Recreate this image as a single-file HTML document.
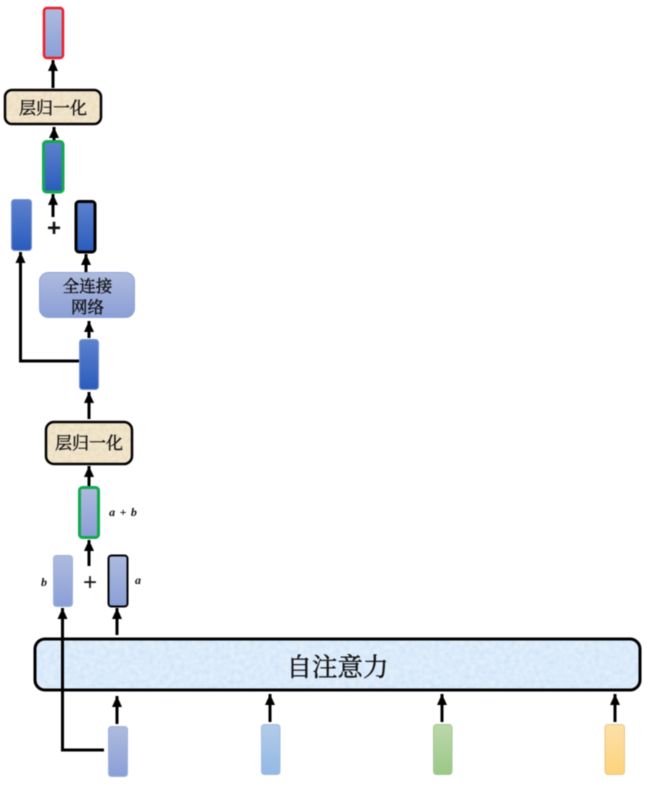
<!DOCTYPE html>
<html><head><meta charset="utf-8"><style>
html,body{margin:0;padding:0;background:#fff;width:651px;height:786px;overflow:hidden}
svg{display:block;position:absolute;left:0;top:0;filter:blur(.4px)}
text{font-family:"Liberation Serif","Noto Serif CJK SC",serif;fill:#111;text-anchor:middle}
.cjk{stroke:#111;stroke-width:.4px}
</style></head><body>
<svg width="651" height="786" viewBox="0 0 651 786" xmlns="http://www.w3.org/2000/svg">
<defs>
<linearGradient id="p" x1="0" y1="0" x2="0" y2="1"><stop offset="0" stop-color="#aebbdf"/><stop offset="1" stop-color="#8b9fd6"/></linearGradient>
<linearGradient id="d" x1="0" y1="0" x2="0" y2="1"><stop offset="0" stop-color="#5d81cd"/><stop offset="1" stop-color="#2a5cbc"/></linearGradient>
<linearGradient id="lb" x1="0" y1="0" x2="0" y2="1"><stop offset="0" stop-color="#b3cbe8"/><stop offset="1" stop-color="#93b9e4"/></linearGradient>
<linearGradient id="g" x1="0" y1="0" x2="0" y2="1"><stop offset="0" stop-color="#bcd8aa"/><stop offset="1" stop-color="#9ac886"/></linearGradient>
<linearGradient id="y" x1="0" y1="0" x2="0" y2="1"><stop offset="0" stop-color="#fde0a8"/><stop offset="1" stop-color="#fdd27c"/></linearGradient>
<filter id="ptex" x="0" y="0" width="100%" height="100%">
<feTurbulence type="fractalNoise" baseFrequency="0.25" numOctaves="3" seed="4"/>
<feColorMatrix values="0 0 0 0 0.80  0 0 0 0 0.67  0 0 0 0 0.44  1.2 0 0 0 -0.3"/>
</filter>
<filter id="btex" x="0" y="0" width="100%" height="100%">
<feTurbulence type="fractalNoise" baseFrequency="0.2" numOctaves="4" seed="8"/>
<feColorMatrix values="0 0 0 0 0.62  0 0 0 0 0.78  0 0 0 0 0.95  1.8 0 0 0 -0.55"/>
</filter>
<clipPath id="c1"><rect x="5" y="91" width="97" height="33" rx="7"/></clipPath>
<clipPath id="c2"><rect x="46" y="422" width="87" height="43" rx="8"/></clipPath>
<clipPath id="c3"><rect x="35" y="639" width="605" height="51" rx="10"/></clipPath>
<marker id="a" markerUnits="userSpaceOnUse" viewBox="0 0 11 10" refX="11" refY="5" markerWidth="11" markerHeight="10" orient="auto"><path d="M0,0 L11,5 L0,10 Z" fill="#000"/></marker>
</defs>

<!-- output -->
<rect x="44" y="8" width="19" height="50" rx="3" fill="url(#p)" stroke="#ee1c25" stroke-width="2.500"/>
<line x1="53" y1="88" x2="53" y2="60" stroke="#000" stroke-width="3" marker-end="url(#a)"/>

<!-- layer norm 1 -->
<rect x="5" y="90" width="96" height="34" rx="7" fill="#f3e8d2"/>
<rect x="5" y="90" width="97" height="34" fill="#f3e8d2" filter="url(#ptex)" clip-path="url(#c1)"/>
<rect x="5" y="90" width="96" height="34" rx="7" fill="none" stroke="#000" stroke-width="2.500"/>
<text class="cjk" x="53" y="114" font-size="17">层归一化</text>
<line x1="54" y1="140" x2="54" y2="127" stroke="#000" stroke-width="3" marker-end="url(#a)"/>

<!-- sum 2 -->
<rect x="43.500" y="141.500" width="19.500" height="50.500" rx="3" fill="url(#d)" stroke="#13a84e" stroke-width="3"/>
<line x1="53" y1="217" x2="53" y2="194" stroke="#000" stroke-width="3" marker-end="url(#a)"/>
<text x="54" y="236" font-size="24" font-weight="bold" style="font-family:'Liberation Sans',sans-serif">+</text>
<rect x="11.500" y="199.500" width="20" height="51" rx="3" fill="url(#d)" stroke="#7d95cf" stroke-width="1"/>
<rect x="76" y="201.500" width="19" height="50.500" rx="3" fill="url(#d)" stroke="#000" stroke-width="3"/>

<!-- skip 2 -->
<polyline points="79,361 20.500,361 20.500,252" fill="none" stroke="#000" stroke-width="3" marker-end="url(#a)"/>
<line x1="86" y1="272" x2="86" y2="254" stroke="#000" stroke-width="3" marker-end="url(#a)"/>

<!-- FC -->
<rect x="39.500" y="272.500" width="95" height="45" rx="9" fill="url(#p)" stroke="#8ea2d4" stroke-width="1"/>
<text class="cjk" x="87.500" y="292" font-size="16.500">全连接</text>
<text class="cjk" x="87.500" y="313" font-size="16.500">网络</text>
<line x1="89" y1="338" x2="89" y2="321" stroke="#000" stroke-width="3" marker-end="url(#a)"/>

<rect x="79.500" y="339.500" width="19" height="50" rx="3" fill="url(#d)" stroke="#7d95cf" stroke-width="1"/>
<line x1="89" y1="419" x2="89" y2="392" stroke="#000" stroke-width="3" marker-end="url(#a)"/>

<!-- layer norm 2 -->
<rect x="46" y="422" width="86" height="42" rx="8" fill="#f3e8d2"/>
<rect x="46" y="422" width="87" height="43" fill="#f3e8d2" filter="url(#ptex)" clip-path="url(#c2)"/>
<rect x="46" y="422" width="86" height="42" rx="8" fill="none" stroke="#000" stroke-width="2.500"/>
<text class="cjk" x="89" y="449" font-size="17">层归一化</text>
<line x1="89" y1="486" x2="89" y2="466" stroke="#000" stroke-width="3" marker-end="url(#a)"/>

<!-- sum 1 -->
<rect x="79.500" y="487.500" width="19" height="50" rx="3" fill="url(#p)" stroke="#13a84e" stroke-width="3"/>
<text x="123" y="516" font-size="12" font-weight="bold" font-style="italic" word-spacing="1.5">a + b</text>
<line x1="89" y1="566" x2="89" y2="540" stroke="#000" stroke-width="3" marker-end="url(#a)"/>
<text x="90" y="590" font-size="24" style="font-family:'Liberation Sans',sans-serif">+</text>
<rect x="53.500" y="555.500" width="19" height="51" rx="3" fill="url(#p)" stroke="#9fb0da" stroke-width="1"/>
<rect x="108.500" y="555.500" width="19" height="51" rx="3" fill="url(#p)" stroke="#000" stroke-width="2"/>
<text x="44" y="586" font-size="12" font-weight="bold" font-style="italic">b</text>
<text x="138" y="584" font-size="12" font-weight="bold" font-style="italic">a</text>
<line x1="117" y1="635" x2="117" y2="608" stroke="#000" stroke-width="3" marker-end="url(#a)"/>

<!-- attention -->
<rect x="35" y="639" width="605" height="51" rx="10" fill="#e2eefa"/>
<rect x="35" y="639" width="605" height="51" fill="#e2eefa" filter="url(#btex)" clip-path="url(#c3)"/>
<rect x="35" y="639" width="605" height="51" rx="10" fill="none" stroke="#000" stroke-width="3"/>
<text class="cjk" x="337.500" y="676" font-size="25.500">自注意力</text>

<!-- skip 1 -->
<polyline points="104,750 62.500,750 62.500,608" fill="none" stroke="#000" stroke-width="3" marker-end="url(#a)"/>

<!-- inputs -->
<line x1="117" y1="724" x2="117" y2="696" stroke="#000" stroke-width="3" marker-end="url(#a)"/>
<line x1="270" y1="722" x2="270" y2="694" stroke="#000" stroke-width="3" marker-end="url(#a)"/>
<line x1="442" y1="722" x2="442" y2="694" stroke="#000" stroke-width="3" marker-end="url(#a)"/>
<line x1="615" y1="722" x2="615" y2="694" stroke="#000" stroke-width="3" marker-end="url(#a)"/>
<rect x="108.500" y="726.500" width="19" height="50" rx="3" fill="url(#p)" stroke="#9fb0da" stroke-width="1"/>
<rect x="261.500" y="724.500" width="18.500" height="50" rx="3" fill="url(#lb)" stroke="#9dbcdf" stroke-width="1"/>
<rect x="433.500" y="724.500" width="18.500" height="50" rx="3" fill="url(#g)" stroke="#a5c596" stroke-width="1"/>
<rect x="605" y="724.500" width="19.500" height="50" rx="3" fill="url(#y)" stroke="#e6c88e" stroke-width="1"/>
</svg>
</body></html>
